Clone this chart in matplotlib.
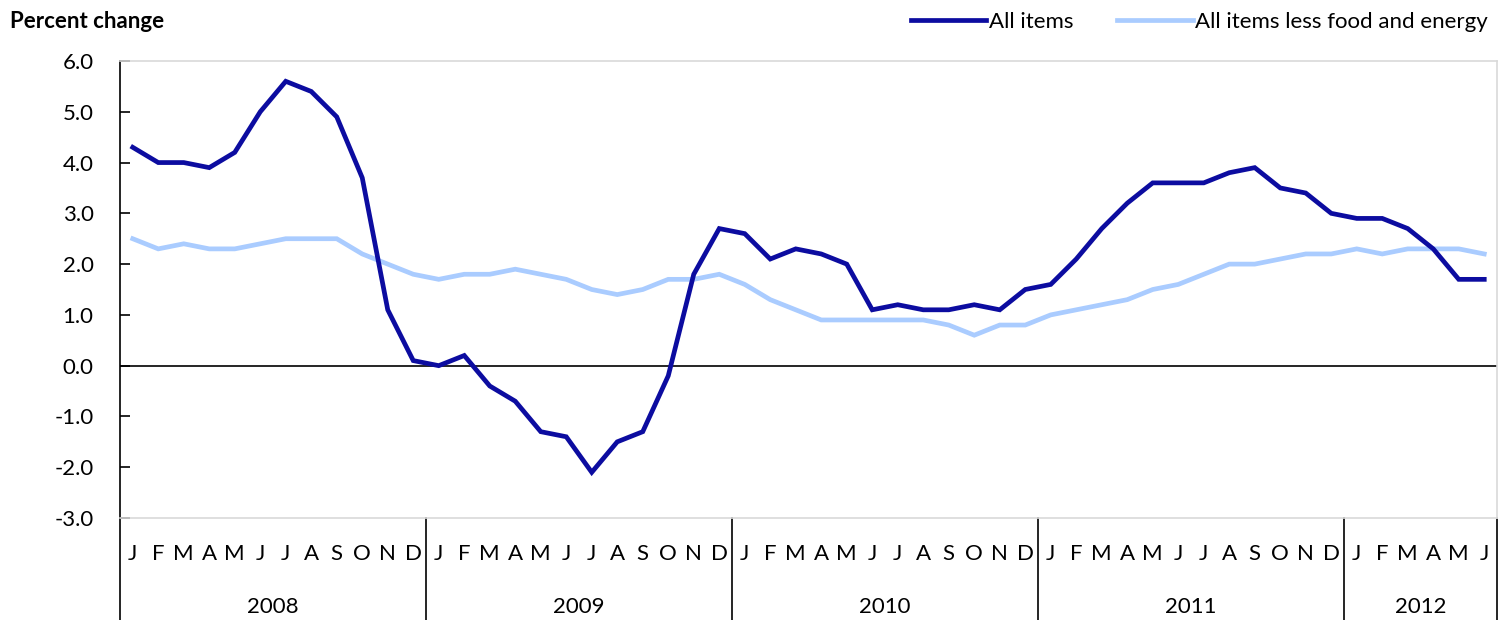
import numpy as np
import matplotlib.pyplot as plt
from matplotlib.lines import Line2D

plt.rcParams['font.family'] = ['Lato', 'DejaVu Sans']

years = ['2008', '2009', '2010', '2011', '2012']
month_letters = ['J', 'F', 'M', 'A', 'M', 'J', 'J', 'A', 'S', 'O', 'N', 'D']
months_per_year = [12, 12, 12, 12, 6]

all_items = [4.3, 4.0, 4.0, 3.9, 4.2, 5.0, 5.6, 5.4, 4.9, 3.7, 1.1, 0.1,
             0.0, 0.2, -0.4, -0.7, -1.3, -1.4, -2.1, -1.5, -1.3, -0.2, 1.8, 2.7,
             2.6, 2.1, 2.3, 2.2, 2.0, 1.1, 1.2, 1.1, 1.1, 1.2, 1.1, 1.5,
             1.6, 2.1, 2.7, 3.2, 3.6, 3.6, 3.6, 3.8, 3.9, 3.5, 3.4, 3.0,
             2.9, 2.9, 2.7, 2.3, 1.7, 1.7]
core = [2.5, 2.3, 2.4, 2.3, 2.3, 2.4, 2.5, 2.5, 2.5, 2.2, 2.0, 1.8,
        1.7, 1.8, 1.8, 1.9, 1.8, 1.7, 1.5, 1.4, 1.5, 1.7, 1.7, 1.8,
        1.6, 1.3, 1.1, 0.9, 0.9, 0.9, 0.9, 0.9, 0.8, 0.6, 0.8, 0.8,
        1.0, 1.1, 1.2, 1.3, 1.5, 1.6, 1.8, 2.0, 2.0, 2.1, 2.2, 2.2,
        2.3, 2.2, 2.3, 2.3, 2.3, 2.2]

dark = '#0c0ca0'
light = '#aaccff'
fs = 16

fig = plt.figure(figsize=(15.04, 6.2), dpi=100)
ax = fig.add_axes([120 / 1504, 102 / 620, 1377 / 1504, 457 / 620])

n = len(all_items)
x = np.arange(n) + 0.5
ax.plot(x, core, color=light, lw=3.4, solid_joinstyle='miter', zorder=3)
ax.plot(x, all_items, color=dark, lw=3.4, solid_joinstyle='miter', zorder=4)
ax.axhline(0, color='black', lw=1.2, zorder=2)

ax.set_xlim(0, n)
ax.set_ylim(-3, 6)
ax.set_yticks(np.arange(-3, 7, 1))
ax.set_yticklabels([f'{v:.1f}' for v in np.arange(-3, 7, 1)], fontsize=fs)
ax.tick_params(axis='y', direction='in', length=7, width=1.2, pad=19)
ax.set_xticks([])

for s in ['top', 'right', 'bottom']:
    ax.spines[s].set_color('#d9d9d9')
    ax.spines[s].set_linewidth(1.2)
ax.spines['left'].set_linewidth(1.2)

# month letters and year labels below the axis
pos = 0
edges = [0]
for yr, m in zip(years, months_per_year):
    for i in range(m):
        ax.text(pos + i + 0.5, -3.7, month_letters[i], ha='center', va='center',
                fontsize=fs, clip_on=False)
    ax.text(pos + m / 2, -4.75, yr, ha='center', va='center', fontsize=fs, clip_on=False)
    pos += m
    edges.append(pos)

trans = ax.get_xaxis_transform()
for e in edges:
    ax.add_line(Line2D([e, e], [0, -102 / 457], color='black', lw=1.2,
                       transform=trans, clip_on=False))

fig.text(10 / 1504, 1 - 21 / 620, 'Percent change', fontsize=fs, fontweight='bold',
         ha='left', va='center')

handles = [Line2D([], [], color=dark, lw=3.4), Line2D([], [], color=light, lw=3.4)]
fig.legend(handles, ['All items', 'All items less food and energy'], ncol=2,
           loc='center right', bbox_to_anchor=(1488 / 1504, 1 - 22 / 620),
           frameon=False, fontsize=fs, handlelength=3.4, handletextpad=0.1,
           columnspacing=2.0, borderaxespad=0, borderpad=0)

fig.savefig('out.png', dpi=100)
